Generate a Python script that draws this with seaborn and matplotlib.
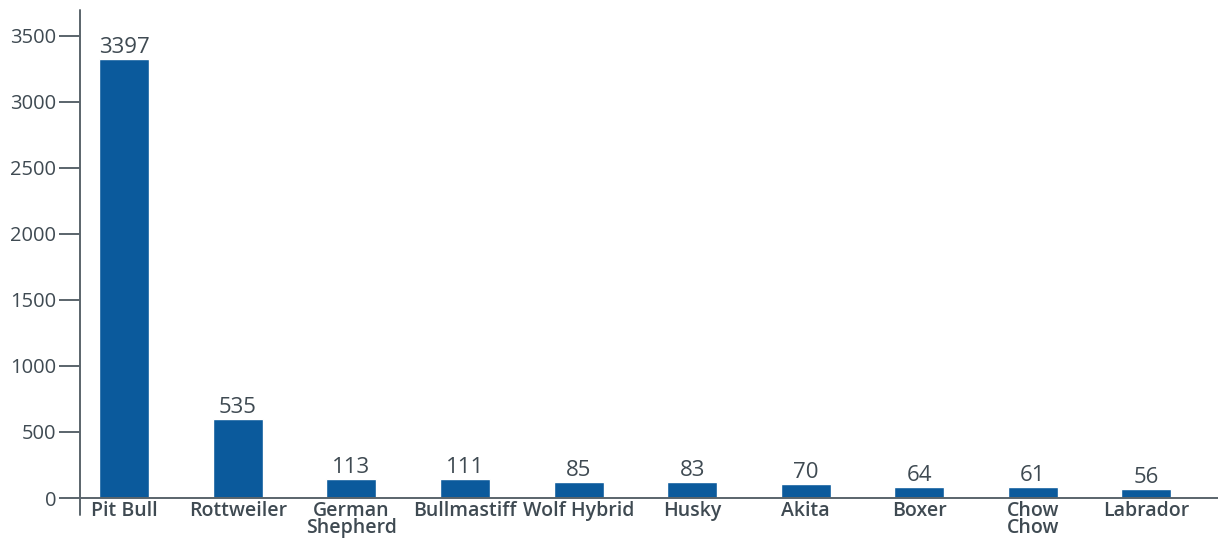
"""
Ataques de perros por raza: barras con etiqueta de valor.
"""
import matplotlib
matplotlib.use("Agg")
import matplotlib.pyplot as plt
import seaborn as sns
import pandas as pd

breeds = ["Pit Bull", "Rottweiler", "German\nShepherd", "Bullmastiff", "Wolf Hybrid",
          "Husky", "Akita", "Boxer", "Chow\nChow", "Labrador"]
counts = [3397, 535, 113, 111, 85, 83, 70, 64, 61, 56]          # valores impresos
bar_heights = [3323, 598, 144, 144, 121, 121, 106, 83, 83, 68]  # altura dibujada en el original

BAR_COLOR = "#0b5a9c"
TEXT_COLOR = "#3f4a52"
AXIS_COLOR = "#5a646b"

sns.set_theme(style="white")
plt.rcParams["font.family"] = ["Open Sans", "DejaVu Sans"]

df = pd.DataFrame({"breed": breeds, "height": bar_heights, "count": counts})

fig = plt.figure(figsize=(12.18, 5.48), dpi=100)
ax = fig.add_axes([0.0657, 0.0912, 0.9343, 0.8908])

sns.barplot(data=df, x="breed", y="height", color=BAR_COLOR, width=0.44,
            saturation=1, ax=ax)

for i, (h, c) in enumerate(zip(df["height"], df["count"])):
    ax.annotate(str(c), xy=(i, h), xytext=(0, 4.5), textcoords="offset points",
                ha="center", va="baseline", fontsize=16, color=TEXT_COLOR)

ax.set_xlim(-0.39, 9.63)
ax.set_ylim(0, 3694)
ax.set_yticks(range(0, 3501, 500))
ax.set_xlabel("")
ax.set_ylabel("")

for side in ["top", "right"]:
    ax.spines[side].set_visible(False)
ax.spines["bottom"].set_color(AXIS_COLOR)
ax.spines["bottom"].set_linewidth(1.4)
ax.spines["left"].set_visible(False)
# eje vertical que baja un poco por debajo del eje x
ax.plot([0, 0], [-0.035, 1], transform=ax.transAxes, color=AXIS_COLOR,
        linewidth=1.4, clip_on=False)

ax.tick_params(axis="y", length=15, width=1.4, color=AXIS_COLOR, pad=2,
               labelsize=14.5, labelcolor=TEXT_COLOR, left=True)
ax.tick_params(axis="x", length=0, pad=2, labelsize=14, labelcolor=TEXT_COLOR)
for lbl in ax.get_xticklabels():
    lbl.set_fontweight("semibold")
    lbl.set_linespacing(0.82)

fig.savefig("out.png", dpi=100)
